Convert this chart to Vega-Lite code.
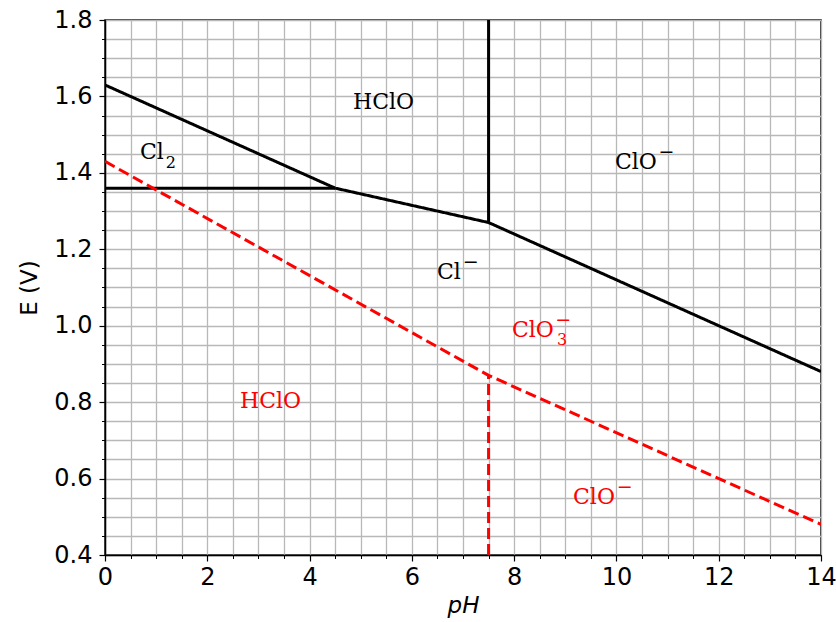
{
  "$schema": "https://vega.github.io/schema/vega-lite/v6.json",
  "width": 716,
  "height": 535,
  "autosize": {"type": "none"},
  "padding": {"left": 105, "top": 20, "right": 15, "bottom": 67},
  "background": "white",
  "config": {
    "view": {"stroke": "black", "strokeWidth": 1.5},
    "axis": {
      "labelFont": "DejaVu Sans",
      "titleFont": "DejaVu Sans",
      "labelFontSize": 24,
      "titleFontSize": 23,
      "labelColor": "black",
      "titleColor": "black",
      "tickColor": "black",
      "domainColor": "black",
      "titleFontWeight": "normal",
      "labelFlush": false,
      "labelOverlap": false,
      "gridColor": "#b8b8b8",
      "gridWidth": 1.3,
      "gridOpacity": 1
    }
  },
  "datasets": {
    "lines": [
      {"segment": "Cl2/HClO", "kind": "chlorine", "step": 1, "ph": 0, "E": 1.63},
      {"segment": "Cl2/HClO", "kind": "chlorine", "step": 2, "ph": 4.5, "E": 1.36},
      {"segment": "Cl-/Cl2", "kind": "chlorine", "step": 1, "ph": 0, "E": 1.36},
      {"segment": "Cl-/Cl2", "kind": "chlorine", "step": 2, "ph": 4.5, "E": 1.36},
      {"segment": "Cl-/HClO-ClO-", "kind": "chlorine", "step": 1, "ph": 4.5, "E": 1.36},
      {"segment": "Cl-/HClO-ClO-", "kind": "chlorine", "step": 2, "ph": 7.5, "E": 1.27},
      {"segment": "Cl-/HClO-ClO-", "kind": "chlorine", "step": 3, "ph": 14, "E": 0.88},
      {"segment": "HClO/ClO-", "kind": "chlorine", "step": 1, "ph": 7.5, "E": 1.27},
      {"segment": "HClO/ClO-", "kind": "chlorine", "step": 2, "ph": 7.5, "E": 1.8},
      {"segment": "ClO3-/HClO-ClO-", "kind": "chlorate", "step": 1, "ph": 0, "E": 1.43},
      {"segment": "ClO3-/HClO-ClO-", "kind": "chlorate", "step": 2, "ph": 7.5, "E": 0.87},
      {"segment": "ClO3-/HClO-ClO-", "kind": "chlorate", "step": 3, "ph": 14, "E": 0.48},
      {"segment": "HClO/ClO- low", "kind": "chlorate", "step": 1, "ph": 7.5, "E": 0.4},
      {"segment": "HClO/ClO- low", "kind": "chlorate", "step": 2, "ph": 7.5, "E": 0.87}
    ],
    "labels": [
      {"text": "HClO", "part": "base", "kind": "chlorine", "ph": 4.849, "E": 1.567},
      {"text": "Cl", "part": "base", "kind": "chlorine", "ph": 0.684, "E": 1.436},
      {"text": "2", "part": "sub", "kind": "chlorine", "ph": 1.19, "E": 1.413},
      {"text": "ClO", "part": "base", "kind": "chlorine", "ph": 9.972, "E": 1.410},
      {"text": "−", "part": "sup", "kind": "chlorine", "ph": 10.98, "E": 1.439},
      {"text": "Cl", "part": "base", "kind": "chlorine", "ph": 6.492, "E": 1.122},
      {"text": "−", "part": "sup", "kind": "chlorine", "ph": 7.15, "E": 1.151},
      {"text": "ClO", "part": "base", "kind": "chlorate", "ph": 7.958, "E": 0.9705},
      {"text": "3", "part": "sub", "kind": "chlorate", "ph": 8.84, "E": 0.9495},
      {"text": "−", "part": "sup", "kind": "chlorate", "ph": 8.96, "E": 0.999},
      {"text": "HClO", "part": "base", "kind": "chlorate", "ph": 2.64, "E": 0.785},
      {"text": "ClO", "part": "base", "kind": "chlorate", "ph": 9.151, "E": 0.533},
      {"text": "−", "part": "sup", "kind": "chlorate", "ph": 10.16, "E": 0.562}
    ]
  },
  "layer": [
    {
      "data": {"name": "lines"},
      "mark": {"type": "line", "strokeWidth": 3, "clip": true},
      "encoding": {
        "x": {
          "field": "ph", "type": "quantitative",
          "scale": {"domain": [0, 14], "nice": false, "zero": false},
          "axis": {
            "orient": "bottom",
            "values": [0,0.5,1,1.5,2,2.5,3,3.5,4,4.5,5,5.5,6,6.5,7,7.5,8,8.5,9,9.5,10,10.5,11,11.5,12,12.5,13,13.5,14],
            "grid": true, "labels": false, "tickSize": 3.5, "tickWidth": 1, "domain": false, "title": null
          }
        },
        "y": {
          "field": "E", "type": "quantitative",
          "scale": {"domain": [0.4, 1.8], "nice": false, "zero": false},
          "axis": {
            "orient": "left",
            "values": [0.4,0.45,0.5,0.55,0.6,0.65,0.7,0.75,0.8,0.85,0.9,0.95,1.0,1.05,1.1,1.15,1.2,1.25,1.3,1.35,1.4,1.45,1.5,1.55,1.6,1.65,1.7,1.75,1.8],
            "grid": true, "labels": false, "tickSize": 3.5, "tickWidth": 1, "domain": false, "title": null
          }
        },
        "detail": {"field": "segment", "type": "nominal"},
        "order": {"field": "step", "type": "quantitative"},
        "color": {
          "field": "kind", "type": "nominal",
          "scale": {"domain": ["chlorine", "chlorate"], "range": ["black", "red"]},
          "legend": null
        },
        "strokeDash": {
          "field": "kind", "type": "nominal",
          "scale": {"domain": ["chlorine", "chlorate"], "range": [[1, 0], [11, 5]]},
          "legend": null
        }
      }
    },
    {
      "data": {"name": "labels"},
      "transform": [{"filter": "datum.part === 'base'"}],
      "mark": {"type": "text", "font": "DejaVu Serif", "fontSize": 22, "align": "left", "baseline": "alphabetic"},
      "encoding": {
        "x": {
          "field": "ph", "type": "quantitative",
          "axis": {
            "orient": "bottom",
            "values": [0,2,4,6,8,10,12,14],
            "grid": false, "tickSize": 6, "tickWidth": 1.2, "labelPadding": 4,
            "domain": true, "domainWidth": 1.5,
            "title": "pH", "titleFontStyle": "italic", "titlePadding": 5
          }
        },
        "y": {
          "field": "E", "type": "quantitative",
          "axis": {
            "orient": "left",
            "values": [0.4,0.6,0.8,1.0,1.2,1.4,1.6,1.8],
            "format": ".1f",
            "grid": false, "tickSize": 6, "tickWidth": 1.2, "labelPadding": 7,
            "domain": true, "domainWidth": 1.5,
            "title": "E (V)", "titlePadding": 12
          }
        },
        "text": {"field": "text", "type": "nominal"},
        "color": {
          "field": "kind", "type": "nominal",
          "scale": {"domain": ["chlorine", "chlorate"], "range": ["black", "red"]},
          "legend": null
        }
      }
    },
    {
      "data": {"name": "labels"},
      "transform": [{"filter": "datum.part === 'sub'"}],
      "mark": {"type": "text", "font": "DejaVu Serif", "fontSize": 16, "align": "left", "baseline": "alphabetic"},
      "encoding": {
        "x": {"field": "ph", "type": "quantitative", "axis": null},
        "y": {"field": "E", "type": "quantitative", "axis": null},
        "text": {"field": "text", "type": "nominal"},
        "color": {
          "field": "kind", "type": "nominal",
          "scale": {"domain": ["chlorine", "chlorate"], "range": ["black", "red"]},
          "legend": null
        }
      }
    },
    {
      "data": {"name": "labels"},
      "transform": [{"filter": "datum.part === 'sup'"}],
      "mark": {"type": "text", "font": "DejaVu Sans", "fontSize": 19, "align": "center", "baseline": "alphabetic"},
      "encoding": {
        "x": {"field": "ph", "type": "quantitative", "axis": null},
        "y": {"field": "E", "type": "quantitative", "axis": null},
        "text": {"field": "text", "type": "nominal"},
        "color": {
          "field": "kind", "type": "nominal",
          "scale": {"domain": ["chlorine", "chlorate"], "range": ["black", "red"]},
          "legend": null
        }
      }
    }
  ],
  "resolve": {"axis": {"x": "independent", "y": "independent"}}
}
